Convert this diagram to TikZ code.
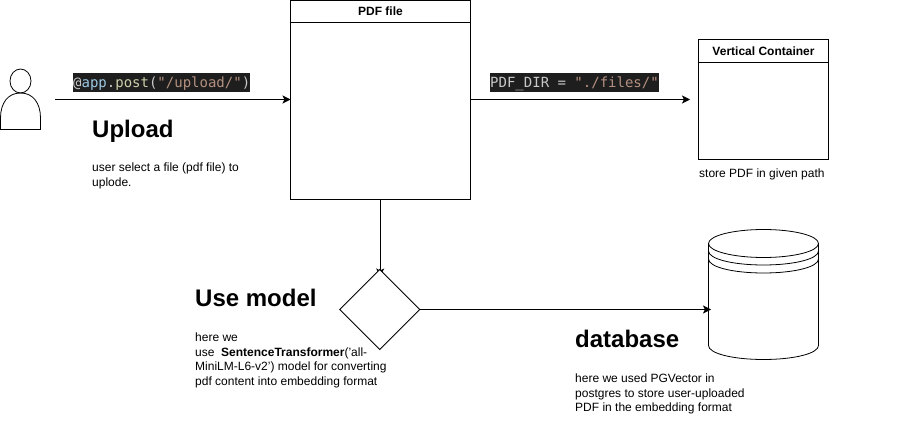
\documentclass[tikz,border=0pt]{standalone}
\usepackage{fontspec}
\setmainfont{Liberation Sans}
\newfontfamily\codefont{DejaVu Sans Mono}
\usetikzlibrary{shapes.geometric,arrows.meta}
\definecolor{codebg}{HTML}{1E1E1E}
\definecolor{codefg}{HTML}{C8C8C8}
\definecolor{codeblue}{HTML}{9CC8E4}
\definecolor{codeyel}{HTML}{CFCFAA}
\definecolor{codestr}{HTML}{B49080}
\definecolor{inkblack}{HTML}{000000}
\tikzset{
  x=1pt,y=-1pt,
  shapeline/.style={draw=inkblack,line width=0.8pt},
  conn/.style={draw=inkblack,line width=0.8pt,-{Stealth[length=8pt,width=8pt,inset=2pt]}},
  headlabel/.style={anchor=center,font=\fontsize{12}{14}\selectfont\bfseries,inner sep=0pt},
  boxpart/.style={shapeline,minimum width=#1,inner sep=0pt,outer sep=0pt,anchor=north west},
  title/.style={anchor=base west,inner sep=0pt,font=\fontsize{24}{28}\selectfont\bfseries},
  body/.style={anchor=north west,inner sep=0pt,font=\fontsize{12}{14.4}\selectfont,align=left},
  code/.style={anchor=north west,fill=codebg,text=codefg,inner sep=0pt,
    text height=14pt,text depth=5pt,font=\fontsize{14}{16}\selectfont\codefont},
}
\begin{document}
\begin{tikzpicture}
\useasboundingbox (0,0) rectangle (898,430);
\fill[white] (0,0) rectangle (898,430);
% PDF file box
\node[boxpart=180pt,minimum height=199pt] (pdf) at (290.5,0.5) {};
\draw[shapeline] (290.5,22.5) -- (470.5,22.5);
\node[headlabel] (pdft) at (380.5,11.5) {PDF file};
% Vertical container
\node[boxpart=130pt,minimum height=120pt] (vc) at (698.5,39.5) {};
\draw[shapeline] (698.5,62.5) -- (828.5,62.5);
\node[headlabel] (vct) at (763.5,51) {Vertical Container};
% Person
\draw[shapeline] (20.5,81) ellipse [x radius=10.5,y radius=12];
\draw[shapeline] (0.5,129.5) -- (40.5,129.5) -- (40.5,118) .. controls (40.5,103) and (33,93) .. (20.5,93)
  .. controls (8,93) and (0.5,103) .. (0.5,118) -- cycle;
\coordinate (personout) at (55,99.5);
% Arrow into the diamond runs under its top corner
\coordinate (diatop) at (380.2,276.5);
\draw[conn] (pdf.south -| diatop) -- (diatop);
% Diamond
\node[diamond,shapeline,fill=white,minimum width=80pt,minimum height=80pt,inner sep=0pt,outer sep=0pt,anchor=center,aspect=1] (dia) at (379.7,309.5) {};
% Cylinder
\coordinate (dbin) at (711,309.5);
\draw[shapeline] (708.5,243.5) -- (708.5,345.5) .. controls (708.5,353.5) and (733,359.5) .. (763.5,359.5)
  .. controls (794,359.5) and (818.5,353.5) .. (818.5,345.5) -- (818.5,243.5);
\draw[shapeline] (763.5,243.5) ellipse [x radius=55,y radius=14];
\draw[shapeline] (708.5,251) .. controls (708.5,259) and (733,265) .. (763.5,265)
  .. controls (794,265) and (818.5,259) .. (818.5,251);
\draw[shapeline] (708.5,259) .. controls (708.5,267) and (733,273) .. (763.5,273)
  .. controls (794,273) and (818.5,267) .. (818.5,259);
% Code labels
\node[code] (c1) at (73,73) {\textcolor{codefg}{@}\textcolor{codeblue}{app}.\textcolor{codeyel}{post}(\textcolor{codestr}{"/upload/"})};
\node[code] (c2) at (490,73) {PDF\char`\_DIR = \textcolor{codestr}{"./files/"}};
% Connectors
\coordinate (pdfleft) at (pdf.west |- personout);
\coordinate (pdfright) at (pdf.east |- personout);
\coordinate (vcgap) at (690,99.5);
\draw[conn] (personout) -- (pdfleft);
\draw[conn] (pdfright) -- (vcgap);
\draw[conn] (dia.east) -- (dbin);
% Texts
\node[title] (t1) at (92,138) {Upload};
\node[body] (b1) at (92,163) {user select a file (pdf file) to\\uplode.};
\node[body,anchor=base west] (s1) at (699,178) {store PDF in given path};
\node[title] (t2) at (195,307) {Use model};
\node[body] (b2) at (195,333) {here we\\use\hspace{0.55em}\textbf{SentenceTransformer}('all-\\MiniLM-L6-v2') model for converting\\pdf content into embedding format};
\node[title] (t3) at (575,348) {database};
\node[body] (b3) at (575,374) {here we used PGVector in\\postgres to store user-uploaded\\PDF in the embedding format};
\end{tikzpicture}
\end{document}
